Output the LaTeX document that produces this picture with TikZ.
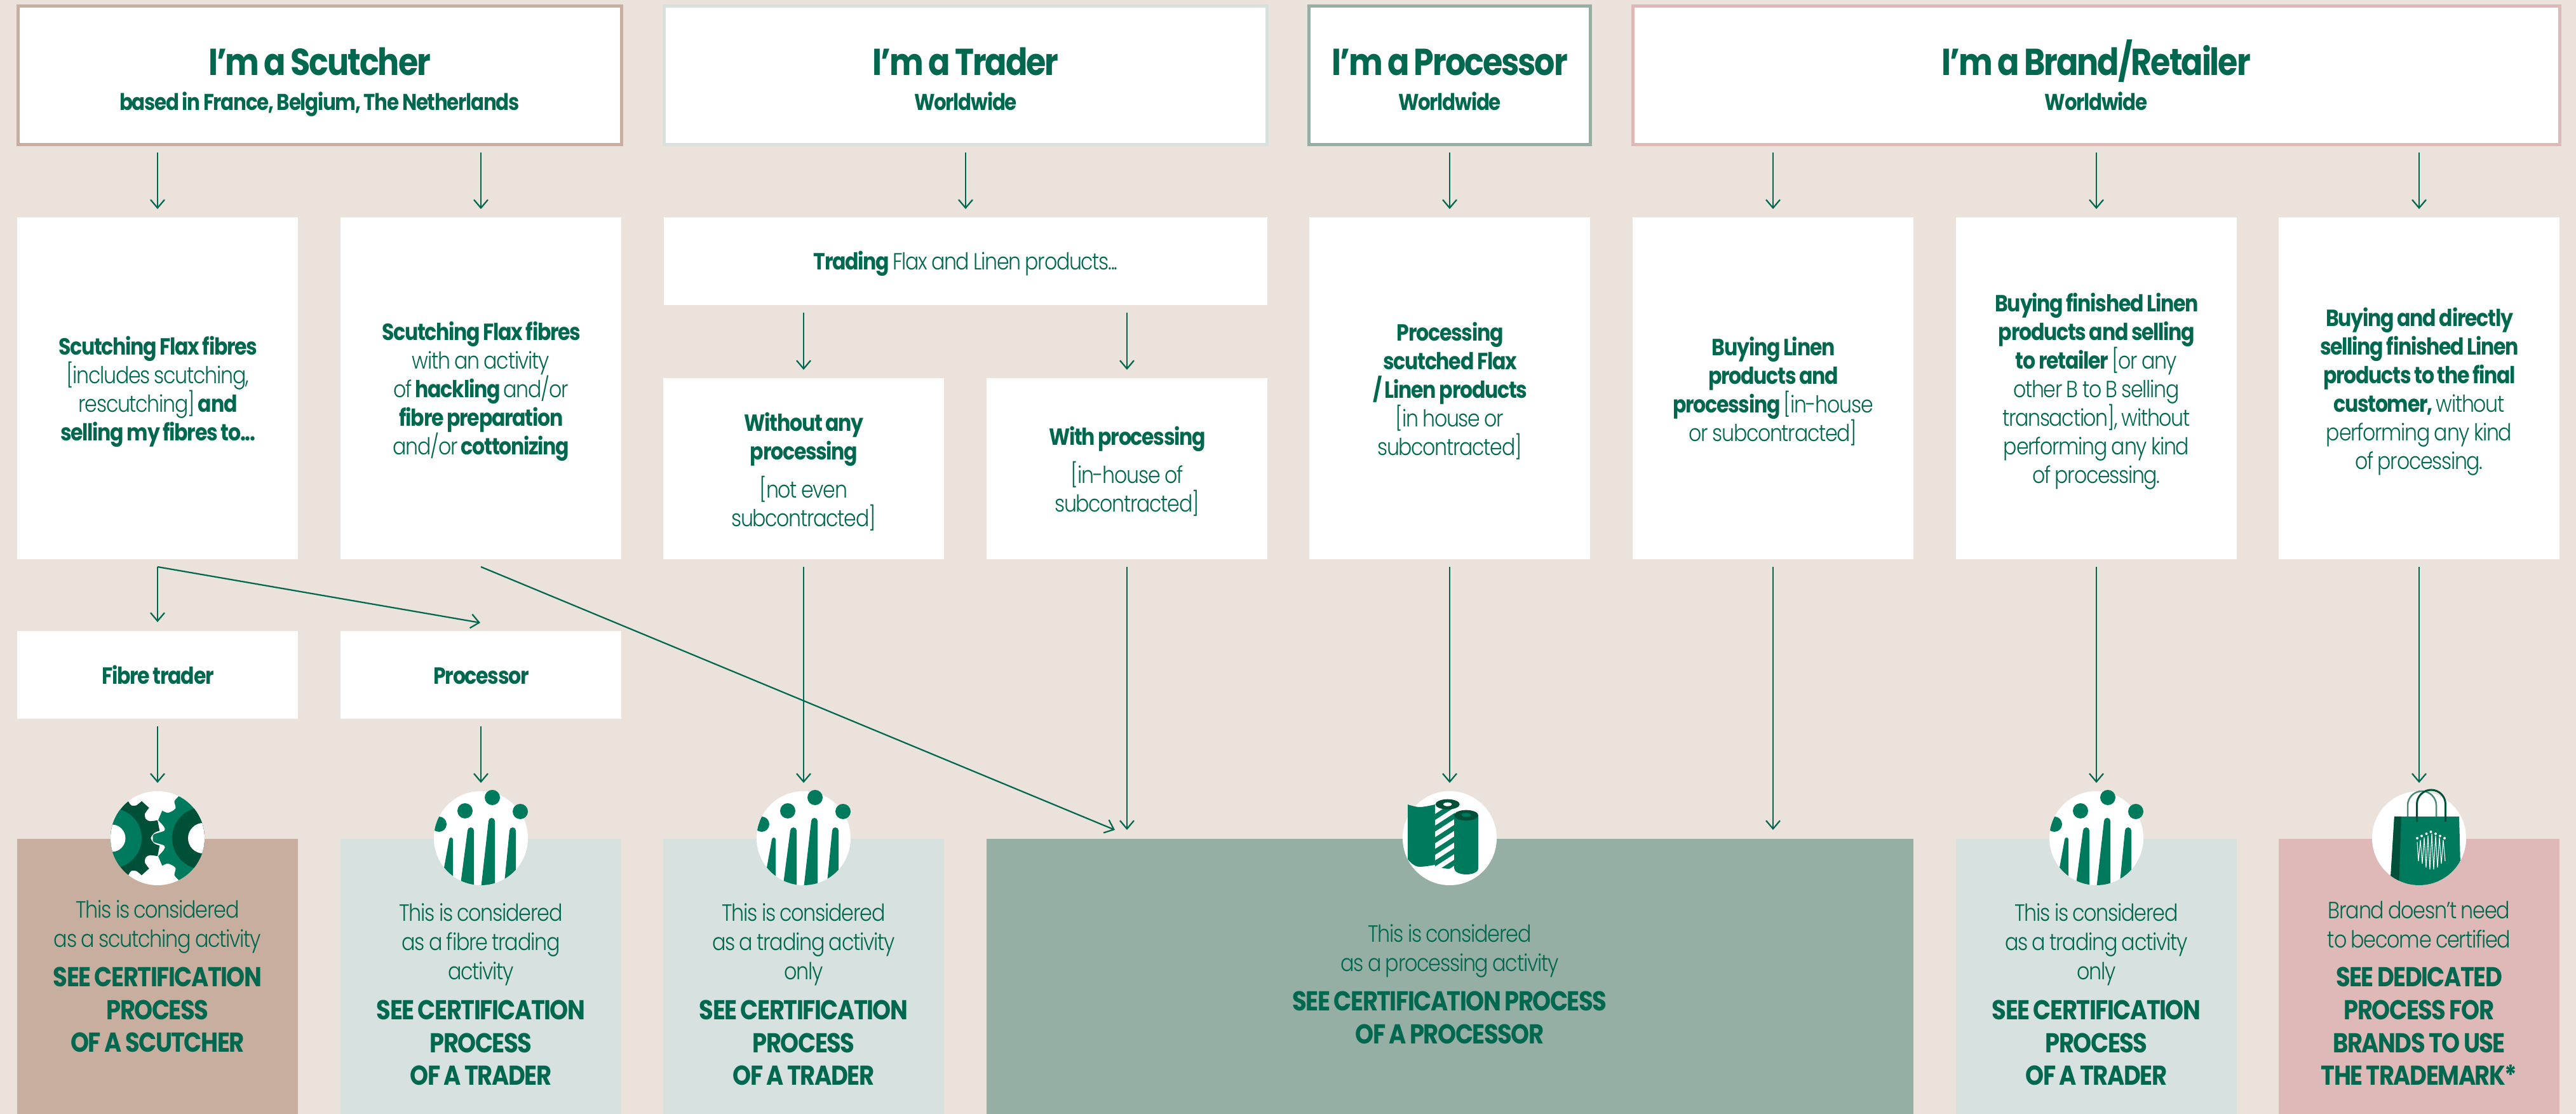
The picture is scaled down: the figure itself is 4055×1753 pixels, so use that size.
\documentclass[tikz,border=0pt]{standalone}
\usepackage{fontspec}
\usetikzlibrary{arrows.meta,calc}
\setmainfont{Poppins Light}[BoldFont={Poppins Bold},LetterSpace=-3.5,FakeStretch=0.86,WordSpace=0.85]
\definecolor{bg}{HTML}{EBE2DC}
\definecolor{ink}{HTML}{00684F}
\definecolor{icg}{HTML}{007A5C}
\definecolor{icd}{HTML}{004F38}
\definecolor{icl}{HTML}{4D8A77}
\definecolor{cS}{HTML}{C8AE9F}
\definecolor{cT}{HTML}{D7E1DF}
\definecolor{cP}{HTML}{96AFA5}
\definecolor{cB}{HTML}{DFB9B7}
\def\u{0.2pt}
\newcommand\topstrut{\rule{0pt}{6.5pt}}
\newcommand\botstrut{\rule[-1.6pt]{0pt}{1.6pt}}
\newcommand\hd[2]{{\fontsize{11.8}{12}\selectfont\bfseries\rule{0pt}{13pt}#1}\\[-1.1pt]{\fontsize{7.2}{9}\selectfont\bfseries\vphantom{g}#2}}
\tikzset{
  hdr/.style={draw,line width=1pt,fill=white,outer sep=0pt,inner sep=0pt,text=ink,align=center,minimum height=218*\u},
  wbox/.style={fill=white,outer sep=0pt,inner sep=0pt,minimum width=442*\u},
  wtxt/.style={text=ink,align=center,inner sep=0pt,font=\fontsize{7.35}{9}\selectfont,execute at begin node=\topstrut,execute at end node=\botstrut},
  res/.style={outer sep=0pt,inner sep=0pt,minimum width=442*\u,minimum height=433*\u,anchor=north},
  lighttxt/.style={text=ink,align=center,inner sep=0pt,font=\fontsize{7.4}{9.2}\selectfont,execute at begin node=\topstrut,execute at end node=\botstrut},
  boldtxt/.style={text=ink,align=center,inner sep=0pt,font=\fontsize{8.6}{10.35}\selectfont\bfseries},
  arr/.style={draw=ink,line width=0.45pt,-{Straight Barb[length=2.6pt,width=4.4pt]}},
  icon/.style={circle,fill=white,minimum size=148*\u,inner sep=0pt,outer sep=0pt},
}
% name, height, position, text shift, text
\newcommand\wb[5]{\node[wbox,minimum height=#2*\u] (#1) at (#3) {};
  \node[wtxt] (#1t) at ([yshift=#4]#1.center) {#5};}
\newcommand\traderart[1]{%
 \begin{scope}[shift={(#1)}]
  \begin{scope}
   \clip (0,0) circle (74);
   \fill[icg] (-66,-22) circle (12);
   \fill[icg] (-50,2) arc (180:360:3) -- (-44,80) -- (-64,80) -- cycle;
   \fill[icg] (-21,-12) arc (180:360:5) -- (-11,80) -- (-33,80) -- cycle;
   \fill[icg] (12,-27) arc (180:360:5) -- (22,80) -- (0,80) -- cycle;
   \fill[icg] (45,-12) arc (180:360:5) -- (55,80) -- (36,80) -- cycle;
  \end{scope}
  \fill[icg] (18,-64) circle (12);
  \fill[icg] (-25,-43) circle (12);
  \fill[icg] (62,-42) circle (12);
 \end{scope}}
\begin{document}
\begin{tikzpicture}[x=0.2pt,y=-0.2pt]
\useasboundingbox (0,0) rectangle (4055,1753);
\fill[bg] (0,0) rectangle (4055,1753);
% headers
\node[hdr,draw=cS,minimum width=950*\u] (h1) at (503,118.5) {\hd{I’m a Scutcher}{based in France, Belgium, The Netherlands}};
\node[hdr,draw=cT,minimum width=949*\u] (h2) at (1520,118.5) {\hd{I’m a Trader}{Worldwide}};
\node[hdr,draw=cP,minimum width=443*\u] (h3) at (2282,118.5) {\hd{I’m a Processor}{Worldwide}};
\node[hdr,draw=cB,minimum width=1459*\u] (h4) at (3299.5,118.5) {\hd{I’m a Brand/Retailer}{Worldwide}};
% main boxes
\wb{b1}{538}{248,611}{-1pt}{\textbf{Scutching Flax fibres}\\{[}includes scutching,\\rescutching{]} \textbf{and}\\\textbf{selling my fibres to...}}
\wb{b2}{538}{757,611}{-1pt}{\textbf{Scutching Flax fibres}\\with an activity\\of \textbf{hackling} and/or\\\textbf{fibre preparation}\\and/or \textbf{cottonizing}}
\node[wbox,minimum width=950*\u,minimum height=138*\u] (tr) at (1520,411) {};
\node[wtxt] (trt) at ([yshift=-0.5pt]tr.center) {\textbf{Trading} Flax and Linen products...};
\wb{b3}{285}{1265,737.5}{-1pt}{\textbf{Without any}\\\textbf{processing}\\[3pt]{[}not even\\subcontracted{]}}
\wb{b4}{285}{1774,737.5}{-1pt}{\textbf{With processing}\\[3pt]{[}in-house of\\subcontracted{]}}
\wb{b5}{538}{2282,611}{-1pt}{\textbf{Processing}\\\textbf{scutched Flax}\\\textbf{/ Linen products}\\{[}in house or\\subcontracted{]}}
\wb{b6}{538}{2791,611}{-1pt}{\textbf{Buying Linen}\\\textbf{products and}\\\textbf{processing} {[}in-house\\or subcontracted{]}}
\wb{b7}{538}{3300,611}{-1pt}{\textbf{Buying finished Linen}\\\textbf{products and selling}\\\textbf{to retailer} {[}or any\\other B to B selling\\transaction{]}, without\\performing any kind\\of processing.}
\wb{b8}{538}{3808,611}{-1pt}{\textbf{Buying and directly}\\\textbf{selling finished Linen}\\\textbf{products to the final}\\\textbf{customer,} without\\performing any kind\\of processing.}
\wb{f1}{138}{248,1062}{-0.5pt}{\textbf{Fibre trader}}
\wb{f2}{138}{757,1062}{-0.5pt}{\textbf{Processor}}
% result boxes
\node[res,fill=cS] (r1) at (248,1320) {};
\node[res,fill=cT] (r2) at (757,1320) {};
\node[res,fill=cT] (r3) at (1265,1320) {};
\node[res,fill=cP,minimum width=1459*\u] (r4) at (2282.5,1320) {};
\node[res,fill=cT] (r5) at (3300,1320) {};
\node[res,fill=cB] (r6) at (3808,1320) {};
% result texts
\node[lighttxt] (l1) at (248,1459) {This is considered\\as a scutching activity};
\node[boldtxt] (t1) at (248,1589) {SEE CERTIFICATION\\PROCESS\\OF A SCUTCHER};
\node[lighttxt] (l2) at (757,1486) {This is considered\\as a fibre trading\\activity};
\node[boldtxt] (t2) at (757,1641) {SEE CERTIFICATION\\PROCESS\\OF A TRADER};
\node[lighttxt] (l3) at (1265,1486) {This is considered\\as a trading activity\\only};
\node[boldtxt] (t3) at (1265,1641) {SEE CERTIFICATION\\PROCESS\\OF A TRADER};
\node[lighttxt] (l4) at (2282,1497) {This is considered\\as a processing activity};
\node[boldtxt] (t4) at (2282,1601) {SEE CERTIFICATION PROCESS\\OF A PROCESSOR};
\node[lighttxt] (l5) at (3300,1486) {This is considered\\as a trading activity\\only};
\node[boldtxt] (t5) at (3300,1641) {SEE CERTIFICATION\\PROCESS\\OF A TRADER};
\node[lighttxt] (l6) at (3808,1459) {Brand doesn’t need\\to become certified};
\node[boldtxt] (t6) at (3808,1615) {SEE DEDICATED\\PROCESS FOR\\BRANDS TO USE\\THE TRADEMARK*};
% icons
\node[icon] (i1) at (248,1319) {};
\node[icon] (i2) at (757,1319) {};
\node[icon] (i3) at (1265,1319) {};
\node[icon] (i4) at (2282,1319) {};
\node[icon] (i5) at (3300,1319) {};
\node[icon] (i6) at (3808,1319) {};
% gears
\begin{scope}[shift={(248,1319)}]
 \clip (0,0) circle (74);
 \fill[icd] (-90,-90) -- (-46.7,-59.3) -- plot[smooth,tension=0.4] coordinates {(-46.7,-59.3) (-41.7,-51.7) (-33.3,-51.7) (-25,-58.3)} -- (-13.3,-47.7) -- plot[smooth,tension=0.5] coordinates {(-13.3,-47.7) (-20,-38.3) (-18.3,-30) (-11.7,-26.7) (0,-28.3)} -- (3.3,-11.7) -- plot[smooth,tension=0.5] coordinates {(3.3,-11.7) (-5,-8.3) (-10.7,0) (-5,8.3) (3.3,11.7)} -- (0,28.3) -- plot[smooth,tension=0.5] coordinates {(0,28.3) (-11.7,26.7) (-18.3,30) (-20,38.3) (-13.3,47.7)} -- (-25,58.3) -- plot[smooth,tension=0.4] coordinates {(-25,58.3) (-33.3,51.7) (-41.7,51.7) (-46.7,59.3)} -- (-90,90) -- cycle;
 \fill[icg] (90,-90) -- (35,-67.3) -- plot[smooth,tension=0.5] coordinates {(35,-67.3) (26.7,-58.3) (28.3,-46.7) (16.7,-40) (7.3,-43.3)} -- (1,-28.3) -- plot[smooth,tension=0.5] coordinates {(1,-28.3) (10,-18.3) (10.7,-11.7) (-6,-6) (-7.3,0) (-6,6) (10.7,11.7) (10,18.3) (1,28.3)} -- (7.3,43.3) -- plot[smooth,tension=0.5] coordinates {(7.3,43.3) (16.7,40) (28.3,46.7) (26.7,58.3) (35,67.3)} -- (90,90) -- cycle;
 \fill[icg] (-72,0) circle (47);
 \fill[icd] (72,0) circle (49);
 \fill[white] (-72,0) circle (21.5);
 \fill[white] (72,0) circle (24);
\end{scope}
\traderart{757,1319}
\traderart{1265,1319}
\traderart{3300,1319}
% rolls
\begin{scope}[shift={(2282,1319)}]
 \begin{scope}
  \clip (-23,-53) -- (16,-53) -- (16,42) -- (7.5,42) -- (7.5,49) -- (-23,46) -- cycle;
  \foreach \k in {0,...,6}
   \fill[icg] (-23,{-38+18.3*\k}) -- ++(39,-25.3) -- ++(0,9.3) -- ++(-39,25.3) -- cycle;
 \end{scope}
 \fill[icg] plot[smooth,tension=0.6] coordinates {(-66,-53) (-47,-49) (-23,-53)} -- (-23,42) -- plot[smooth,tension=0.6] coordinates {(-23,42) (-47,45) (-58,41) (-66,33)} -- cycle;
 \fill[icd] (-3.3,-53.3) ellipse (19 and 8);
 \fill[white] (-3.3,-53.3) ellipse (6.7 and 3);
 \fill[white] (7.5,-36) rectangle (16,-45);
 \fill[icg] (7.3,-36) rectangle (45,48);
 \fill[icg] (26.15,48) ellipse (18.85 and 9);
 \fill[icd] (26,-36) ellipse (19 and 8.3);
 \fill[icg] (26,-36.6) ellipse (7.3 and 3);
\end{scope}
% bag
\begin{scope}[shift={(3808,1319)}]
 \draw[icl,line width=0.5pt] (-18,-34) -- (-18,-51.5) arc (180:360:22.5) -- (27,-34);
 \begin{scope}
  \clip (0,0) circle (74);
  \fill[icg] (-39,-34) -- (63,-34) -- (66,80) -- (-46,80) -- cycle;
  \fill[icd] (-39,-34) -- (-28,-34) -- (-32,80) -- (-46,80) -- cycle;
 \end{scope}
 \draw[icd,line width=0.6pt] (-3.5,-26) -- (-3.5,-53.5) arc (180:360:22.5) -- (41.5,-26);
 \draw[white,line width=0.22pt] (-3,6) -- (-1,36) -- (2,3) -- (5,40) -- (8,-1) -- (11,46) -- (14,-4)
   -- (17,49) -- (20,-7) -- (23,49) -- (26,-4) -- (29,46) -- (32,-1) -- (35,40) -- (38,3) -- (41,36);
 \foreach \dx/\dy in {-3/0,4/-3.5,11.5/-7,18.5/-10,26/-7,33/-3.5,40/0}
  \fill[white] (\dx,\dy) circle (2);
\end{scope}
% connectors
\foreach \a/\b in {h1/b1,h1/b2,h3/b5,h4/b6,h4/b7,h4/b8}
  \draw[arr,shorten <=2.5pt,shorten >=2.6pt] (\b.north |- \a.south) -- (\b.north);
\draw[arr,shorten <=2.5pt,shorten >=2.6pt] (h2.south) -- (tr.north);
\draw[arr,shorten <=2.4pt,shorten >=2.6pt] (b3.north |- tr.south) -- (b3.north);
\draw[arr,shorten <=2.4pt,shorten >=2.6pt] (b4.north |- tr.south) -- (b4.north);
\coordinate (s1) at (248,892);
\coordinate (s2) at (757,892);
\coordinate (e1) at (756,980);
\coordinate (e2) at (1755,1306);
\draw[arr,shorten >=2.8pt] (s1) -- (f1.north);
\draw[arr] (s1) -- (e1);
\draw[arr] (s2) -- (e2);
\draw[arr,shorten <=2.4pt,shorten >=2.6pt] (f1.south) -- (i1.north);
\draw[arr,shorten <=2.4pt,shorten >=2.6pt] (f2.south) -- (i2.north);
\draw[arr,shorten <=2.4pt,shorten >=2.6pt] (b3.south) -- (i3.north);
\draw[arr,shorten <=2.4pt,shorten >=2.8pt] (b4.south) -- (r4.north -| b4.south);
\draw[arr,shorten <=2.4pt,shorten >=2.6pt] (b5.south) -- (i4.north);
\draw[arr,shorten <=2.4pt,shorten >=2.8pt] (b6.south) -- (r4.north -| b6.south);
\draw[arr,shorten <=2.4pt,shorten >=2.6pt] (b7.south) -- (i5.north);
\draw[arr,shorten <=2.4pt,shorten >=2.6pt] (b8.south) -- (i6.north);
\end{tikzpicture}
\end{document}
